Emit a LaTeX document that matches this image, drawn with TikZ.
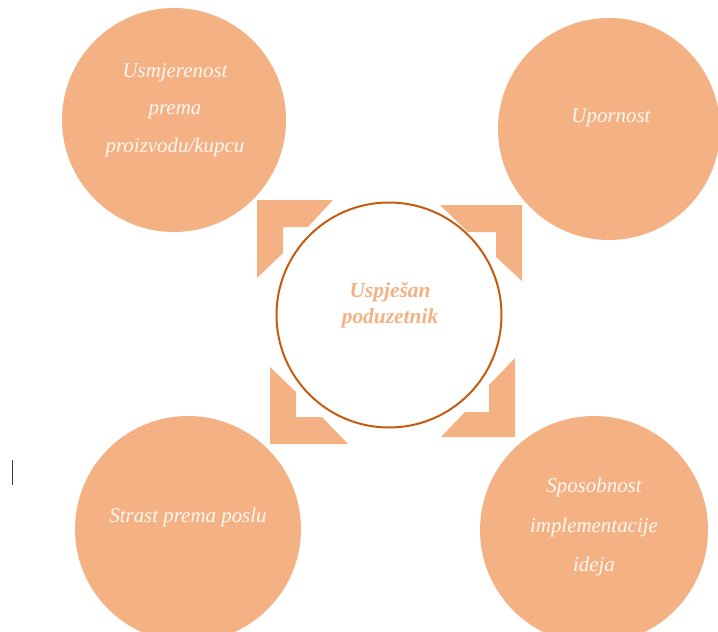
\documentclass[tikz,border=0pt]{standalone}
\usepackage{fontspec}
\setmainfont{Liberation Serif}
\definecolor{peach}{HTML}{F4B183}
\definecolor{rust}{HTML}{C55A11}
\definecolor{cream}{HTML}{FFF8F2}
\begin{document}
\begin{tikzpicture}[x=1bp,y=-1bp,
  bubble/.style={circle,fill=peach,inner sep=0pt},
  btext/.style={text=cream,align=center,font=\fontsize{21}{37.5}\selectfont\itshape,inner sep=0pt},
  corner/.style={fill=peach,draw=none}]
\useasboundingbox (0,0) rectangle (718,632);
% outer circles
\node[bubble,minimum size=224bp] (tl) at (174,120) {};
\node[bubble,minimum size=222bp] (tr) at (609,129) {};
\node[bubble,minimum size=226bp] (bl) at (188,529) {};
\node[bubble,minimum size=228bp] (br) at (594,530) {};
% centre circle
\node[circle,draw=rust,line width=2bp,fill=white,minimum size=225bp,inner sep=0pt] (c) at (389,315) {};
% corner chevrons
\fill[corner] (257,200) -- (333,200) -- (308,227) -- (283,227) -- (283,253) -- (257,278) -- cycle;
\fill[corner] (522,205) -- (440,205) -- (468,232) -- (496,232) -- (496,257) -- (522,281) -- cycle;
\fill[corner] (270,444) -- (270,367) -- (296,392) -- (296,417) -- (322,417) -- (348,444) -- cycle;
\fill[corner] (515,437) -- (515,358) -- (489,385) -- (489,412) -- (465,412) -- (441,437) -- cycle;
% texts
\node[btext] (tltext) at (175,110) {Usmjerenost\\prema\\proizvodu/kupcu};
\node[btext] (trtext) at (611,118) {Upornost};
\node[btext] (bltext) at (188,517) {Strast prema poslu};
\node[btext,font=\fontsize{21}{40}\selectfont\itshape] (brtext) at (594,527) {Sposobnost\\implementacije\\ideja};
\node[text=peach,align=center,inner sep=0pt,font=\fontsize{21.5}{26}\selectfont\bfseries\itshape] (ctext) at (390,305) {Uspješan\\poduzetnik};
% cursor mark
\coordinate (k1) at (12,460);
\coordinate (k2) at (12,485);
\draw[black!75,line width=1bp] (k1) -- (k2);
\end{tikzpicture}
\end{document}
